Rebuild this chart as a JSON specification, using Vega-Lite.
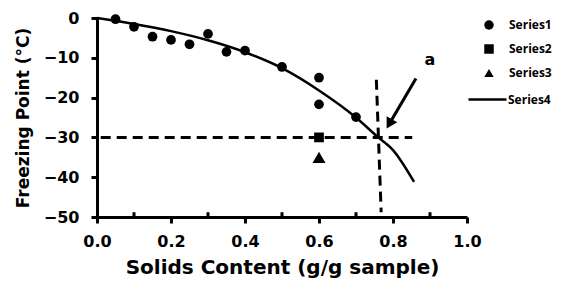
{
  "$schema": "https://vega.github.io/schema/vega-lite/v6.json",
  "width": 370,
  "height": 199,
  "autosize": {"type": "none"},
  "padding": {"left": 97, "top": 18, "right": 95, "bottom": 69},
  "background": "white",
  "config": {
    "view": {"stroke": null},
    "font": "DejaVu Sans",
    "axis": {"grid": false, "domainColor": "black", "domainWidth": 3, "tickColor": "black", "tickWidth": 3,
      "labelColor": "black", "titleColor": "black", "labelFont": "DejaVu Sans", "labelFontWeight": "bold", "labelFontSize": 16,
      "titleFont": "DejaVu Sans", "titleFontWeight": "bold", "titleFontSize": 17, "labelOverlap": false, "labelFlush": false}
  },
  "datasets": {
    "dash": [
      {"g": "h", "x": 0.01, "y": -30},
      {"g": "h", "x": 0.852, "y": -30},
      {"g": "v", "x": 0.755, "y": -15.5},
      {"g": "v", "x": 0.768, "y": -48.8}
    ],
    "minor": [
      {"x": 0.1, "y": -50, "y2": -48.8},
      {"x": 0.3, "y": -50, "y2": -48.8},
      {"x": 0.5, "y": -50, "y2": -48.8},
      {"x": 0.7, "y": -50, "y2": -48.8},
      {"x": 0.9, "y": -50, "y2": -48.8}
    ],
    "curve": [
      {"fit": "Series4", "x": 0.0, "y": 0},
      {"fit": "Series4", "x": 0.1, "y": -1.5},
      {"fit": "Series4", "x": 0.2, "y": -3.3},
      {"fit": "Series4", "x": 0.3, "y": -5.6},
      {"fit": "Series4", "x": 0.4, "y": -8.6},
      {"fit": "Series4", "x": 0.5, "y": -12.6},
      {"fit": "Series4", "x": 0.6, "y": -18.2},
      {"fit": "Series4", "x": 0.7, "y": -25.0},
      {"fit": "Series4", "x": 0.76, "y": -30},
      {"fit": "Series4", "x": 0.8, "y": -33.2},
      {"fit": "Series4", "x": 0.857, "y": -41.2}
    ],
    "points": [
      {"series": "Series1", "x": 0.05, "y": -0.3},
      {"series": "Series1", "x": 0.1, "y": -2.2},
      {"series": "Series1", "x": 0.15, "y": -4.7},
      {"series": "Series1", "x": 0.2, "y": -5.5},
      {"series": "Series1", "x": 0.25, "y": -6.6},
      {"series": "Series1", "x": 0.3, "y": -4.0},
      {"series": "Series1", "x": 0.35, "y": -8.5},
      {"series": "Series1", "x": 0.4, "y": -8.2},
      {"series": "Series1", "x": 0.5, "y": -12.3},
      {"series": "Series1", "x": 0.6, "y": -15.0},
      {"series": "Series1", "x": 0.6, "y": -21.7},
      {"series": "Series1", "x": 0.7, "y": -24.9},
      {"series": "Series2", "x": 0.6, "y": -30.0},
      {"series": "Series3", "x": 0.6, "y": -35.0}
    ],
    "arrow": [
      {"x": 0.862, "y": -15.2},
      {"x": 0.79, "y": -26.6}
    ],
    "head": [
      {"x": 0.79, "y": -26.6, "angle": 210}
    ],
    "label": [
      {"x": 0.9, "y": -10.6, "text": "a"}
    ]
  },
  "layer": [
    {
      "data": {"name": "dash"},
      "mark": {"type": "line", "color": "black", "strokeWidth": 3, "strokeDash": [10, 6]},
      "encoding": {
        "x": {"field": "x", "type": "quantitative", "scale": {"domain": [0, 1]},
          "axis": {"title": "Solids Content (g/g sample)", "titleFontSize": 20, "values": [0, 0.2, 0.4, 0.6, 0.8, 1.0],
            "tickCount": 6, "format": ".1f", "tickSize": 6,
            "labelPadding": 10, "titlePadding": 8}},
        "y": {"field": "y", "type": "quantitative", "scale": {"domain": [-50, 0]},
          "axis": {"title": "Freezing Point (°C)", "values": [-50, -40, -30, -20, -10, 0], "tickCount": 6, "tickSize": 6, "labelPadding": 12, "titlePadding": 11}},
        "detail": {"field": "g"}
      }
    },
    {
      "data": {"name": "minor"},
      "mark": {"type": "rule", "color": "black", "strokeWidth": 3},
      "encoding": {
        "x": {"field": "x", "type": "quantitative"},
        "y": {"field": "y", "type": "quantitative"},
        "y2": {"field": "y2"}
      }
    },
    {
      "data": {"name": "curve"},
      "mark": {"type": "line", "strokeWidth": 2.5, "interpolate": "monotone"},
      "encoding": {
        "x": {"field": "x", "type": "quantitative"},
        "y": {"field": "y", "type": "quantitative"},
        "color": {"field": "fit", "type": "nominal", "scale": {"domain": ["Series4"], "range": ["black"]},
          "legend": {"title": null, "orient": "none", "legendX": 370, "legendY": 61,
            "labelFont": "Open Sans", "labelFontWeight": "bold", "labelFontSize": 12, "labelColor": "black",
            "symbolType": "stroke", "symbolSize": 1444, "symbolStrokeWidth": 2.5, "labelOffset": 0}}
      }
    },
    {
      "data": {"name": "points"},
      "mark": {"type": "point", "filled": true, "color": "black", "opacity": 1},
      "encoding": {
        "x": {"field": "x", "type": "quantitative"},
        "y": {"field": "y", "type": "quantitative"},
        "size": {"condition": {"test": "datum.series == 'Series3'", "value": 170}, "value": 95},
        "shape": {"field": "series", "type": "nominal",
          "scale": {"domain": ["Series1", "Series2", "Series3"], "range": ["circle", "square", "triangle-up"]},
          "legend": {"title": null, "orient": "none", "legendX": 386, "legendY": 1,
            "labelFont": "Open Sans", "labelFontWeight": "bold", "labelFontSize": 12, "labelColor": "black",
            "symbolFillColor": "black", "symbolStrokeColor": "black", "symbolSize": 90,
            "labelOffset": 14, "rowPadding": 8}
        }
      }
    },
    {
      "data": {"name": "arrow"},
      "mark": {"type": "line", "color": "black", "strokeWidth": 3},
      "encoding": {
        "x": {"field": "x", "type": "quantitative"},
        "y": {"field": "y", "type": "quantitative"}
      }
    },
    {
      "data": {"name": "head"},
      "mark": {"type": "point", "shape": "triangle-up", "filled": true, "color": "black", "opacity": 1, "size": 150},
      "encoding": {
        "x": {"field": "x", "type": "quantitative"},
        "y": {"field": "y", "type": "quantitative"},
        "angle": {"field": "angle", "type": "quantitative", "scale": null}
      }
    },
    {
      "data": {"name": "label"},
      "mark": {"type": "text", "font": "DejaVu Sans", "fontWeight": "bold", "fontSize": 16, "color": "black"},
      "encoding": {
        "x": {"field": "x", "type": "quantitative"},
        "y": {"field": "y", "type": "quantitative"},
        "text": {"field": "text"}
      }
    }
  ]
}
